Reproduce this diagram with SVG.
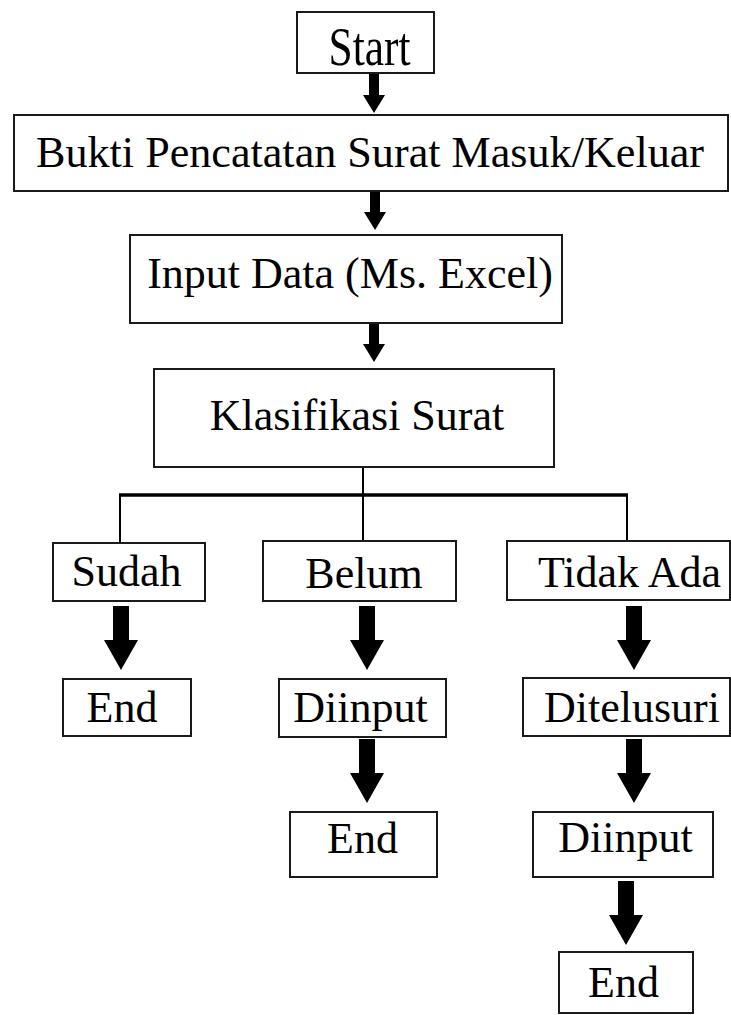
<svg xmlns="http://www.w3.org/2000/svg" xmlns:xlink="http://www.w3.org/1999/xlink" width="731" height="1015" viewBox="0 0 731 1015">
<style>
.box{fill:#fff;stroke:#1a1a1a;stroke-width:2}
.lbl{font-family:"Liberation Serif","Times New Roman",serif;font-size:44px;fill:#000;text-anchor:middle}
.ln{stroke:#000;fill:none}
.arr{fill:#000}
</style>
<defs>
<path id="bigArrow" d="M-8,0 H8 V34 H17 L0,64 L-17,34 H-8 Z"/>
<path id="smallArrow" d="M-5,0 H5 V21 H11 L0,39 L-11,21 H-5 Z"/>
</defs>
<rect width="731" height="1015" fill="#fff"/>
<g id="connectors">
<line class="ln" x1="363" y1="467" x2="363" y2="495" stroke-width="2"/>
<line class="ln" x1="119" y1="495" x2="628" y2="495" stroke-width="3.5"/>
<line class="ln" x1="120" y1="495" x2="120" y2="543" stroke-width="2"/>
<line class="ln" x1="363" y1="495" x2="363" y2="541" stroke-width="2"/>
<line class="ln" x1="627" y1="495" x2="627" y2="541" stroke-width="2"/>
<use class="arr" xlink:href="#smallArrow" href="#smallArrow" transform="translate(374,74)"/>
<use class="arr" xlink:href="#smallArrow" href="#smallArrow" transform="translate(375,191)"/>
<use class="arr" xlink:href="#smallArrow" href="#smallArrow" transform="translate(374,323)"/>
<use class="arr" xlink:href="#bigArrow" href="#bigArrow" transform="translate(121,606)"/>
<use class="arr" xlink:href="#bigArrow" href="#bigArrow" transform="translate(367,606)"/>
<use class="arr" xlink:href="#bigArrow" href="#bigArrow" transform="translate(634,606)"/>
<use class="arr" xlink:href="#bigArrow" href="#bigArrow" transform="translate(367,739)"/>
<use class="arr" xlink:href="#bigArrow" href="#bigArrow" transform="translate(634,739)"/>
<use class="arr" xlink:href="#bigArrow" href="#bigArrow" transform="translate(626,881)"/>
</g>
<g id="start"><rect class="box" x="297" y="12" width="137" height="61"/><text class="lbl" x="369.5" y="65" style="font-size:54px" textLength="82" lengthAdjust="spacingAndGlyphs">Start</text></g>
<g id="bukti"><rect class="box" x="14" y="115" width="714" height="76"/><text class="lbl" x="370" y="167" textLength="668" lengthAdjust="spacingAndGlyphs">Bukti Pencatatan Surat Masuk/Keluar</text></g>
<g id="input"><rect class="box" x="130" y="235" width="432" height="88"/><text class="lbl" x="350" y="288">Input Data (Ms. Excel)</text></g>
<g id="klasifikasi"><rect class="box" x="154" y="369" width="400" height="98"/><text class="lbl" x="357" y="430">Klasifikasi Surat</text></g>
<g id="sudah"><rect class="box" x="53" y="543" width="152" height="58"/><text class="lbl" x="126.5" y="586">Sudah</text></g>
<g id="belum"><rect class="box" x="263" y="541" width="193" height="60"/><text class="lbl" x="364" y="588">Belum</text></g>
<g id="tidak-ada"><rect class="box" x="507" y="541" width="223" height="59"/><text class="lbl" x="629.5" y="587">Tidak Ada</text></g>
<g id="end-sudah"><rect class="box" x="63" y="679" width="128" height="57"/><text class="lbl" x="122" y="722">End</text></g>
<g id="diinput-belum"><rect class="box" x="279" y="679" width="167" height="58"/><text class="lbl" x="360.5" y="722">Diinput</text></g>
<g id="ditelusuri"><rect class="box" x="523" y="678" width="207" height="58"/><text class="lbl" x="632" y="722">Ditelusuri</text></g>
<g id="end-belum"><rect class="box" x="290" y="812" width="147" height="65"/><text class="lbl" x="362.5" y="853">End</text></g>
<g id="diinput-tidak"><rect class="box" x="533" y="812" width="180" height="65"/><text class="lbl" x="625.5" y="852">Diinput</text></g>
<g id="end-tidak"><rect class="box" x="559" y="952" width="134" height="61"/><text class="lbl" x="623.5" y="997">End</text></g>
</svg>
